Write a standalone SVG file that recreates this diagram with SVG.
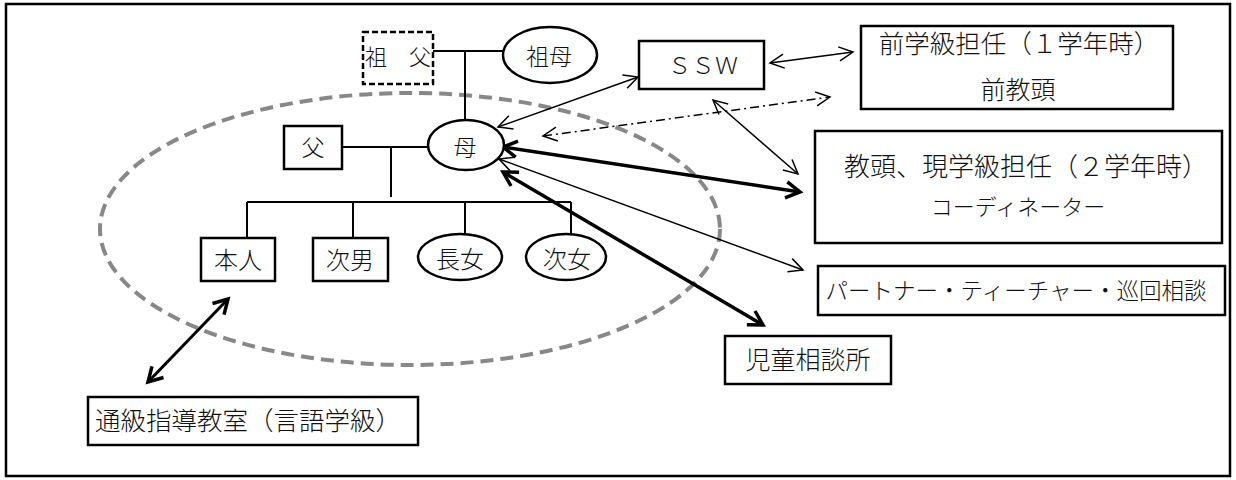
<svg xmlns="http://www.w3.org/2000/svg" width="1236" height="480" viewBox="0 0 1236 480">
<style>
text{font-family:"Liberation Serif","Noto Sans CJK JP",serif;font-weight:300;fill:#111;text-anchor:middle;dominant-baseline:central}
.box{fill:#fff;stroke:#000;stroke-width:2.5}
.ln{stroke:#000;stroke-width:2;fill:none}
.thin{stroke:#000;stroke-width:1.5;fill:none;marker-start:url(#ah);marker-end:url(#ah)}
.thick{stroke:#000;stroke-width:3.5;fill:none;marker-start:url(#ahb);marker-end:url(#ahb)}
</style>
<defs>
<marker id="ah" markerUnits="userSpaceOnUse" orient="auto-start-reverse" refX="0" refY="0" markerWidth="30" markerHeight="30" viewBox="-20 -15 30 30" overflow="visible">
<path d="M-14,-7 L0,0 L-14,7" fill="none" stroke="#000" stroke-width="1.5"/>
</marker>
<marker id="ahb" markerUnits="userSpaceOnUse" orient="auto-start-reverse" refX="0" refY="0" markerWidth="30" markerHeight="30" viewBox="-20 -15 30 30" overflow="visible">
<path d="M-14,-8 L0,0 L-14,8" fill="none" stroke="#000" stroke-width="3.5" stroke-linejoin="miter"/>
</marker>
</defs>
<rect x="0" y="0" width="1236" height="480" fill="#fff"/>
<rect x="6" y="4" width="1224" height="472" fill="none" stroke="#000" stroke-width="2.5"/>
<ellipse cx="410" cy="229" rx="310" ry="136" fill="none" stroke="#888" stroke-width="4" stroke-dasharray="13 7"/>
<g id="tree-lines">
<path class="ln" d="M433,51 H503 M465,51 V120 M342,147 H428 M391,147 V197 M247,202 H571 M247,202 V238 M353,202 V238 M465,202 V234 M571,202 V234"/>
</g>
<g id="connectors">
<line class="thick" x1="228" y1="299" x2="148" y2="382" style="stroke-width:3"/>
<line class="thin" x1="498" y1="127" x2="638" y2="77"/>
<line class="thin" x1="770" y1="63" x2="853" y2="52"/>
<line class="thin" x1="543" y1="136" x2="830" y2="97" stroke-dasharray="9 4 2 4"/>
<line class="thin" x1="713" y1="100" x2="798" y2="174"/>
<line class="thick" x1="503" y1="147" x2="800" y2="192"/>
<line class="thin" x1="499" y1="159" x2="803" y2="270"/>
<line class="thick" x1="503" y1="172" x2="763" y2="325"/>
</g>
<g id="sofu"><rect x="363" y="32" width="70" height="52" fill="#fff" stroke="#000" stroke-width="2.5" stroke-dasharray="6 3"/><text x="398" y="57" font-size="22">祖　父</text></g>
<g id="sobo"><ellipse cx="550" cy="55" rx="47" ry="28" class="box"/><text x="549" y="57" font-size="23">祖母</text></g>
<g id="haha"><ellipse cx="466" cy="145" rx="38" ry="25" class="box"/><text x="465" y="148" font-size="23">母</text></g>
<g id="chichi"><rect x="284" y="126" width="58" height="43" class="box"/><text x="313" y="148" font-size="23">父</text></g>
<g id="honnin"><rect x="201" y="238" width="74" height="43" class="box"/><text x="238" y="261" font-size="24">本人</text></g>
<g id="jinan"><rect x="313" y="238" width="75" height="43" class="box"/><text x="350" y="261" font-size="24">次男</text></g>
<g id="chojo"><ellipse cx="460" cy="257" rx="42" ry="23" class="box"/><text x="460" y="260" font-size="24">長女</text></g>
<g id="jijo"><ellipse cx="566" cy="257" rx="40" ry="23" class="box"/><text x="567" y="260" font-size="24">次女</text></g>
<g id="ssw"><rect x="639" y="41" width="125" height="48" class="box"/><text x="703" y="66" font-size="23" textLength="70" lengthAdjust="spacing">ＳＳＷ</text></g>
<g id="mae"><rect x="861" y="26" width="312" height="83" class="box"/><text x="1019" y="44" font-size="25.5">前学級担任（１学年時）</text><text x="1018" y="90" font-size="25">前教頭</text></g>
<g id="kyoto"><rect x="815" y="131" width="407" height="112" class="box"/><text x="1026" y="167" font-size="26">教頭、現学級担任（２学年時）</text><text x="1018" y="207" font-size="22">コーディネーター</text></g>
<g id="partner"><rect x="818" y="266" width="407" height="49" class="box"/><text x="1016" y="291" font-size="22.5">パートナー・ティーチャー・巡回相談</text></g>
<g id="jido"><rect x="725" y="336" width="166" height="48" class="box"/><text x="808" y="360" font-size="25">児童相談所</text></g>
<g id="tsukyu"><rect x="88" y="397" width="330" height="48" class="box"/><text x="248" y="421" font-size="25.5">通級指導教室（言語学級）</text></g>
</svg>
